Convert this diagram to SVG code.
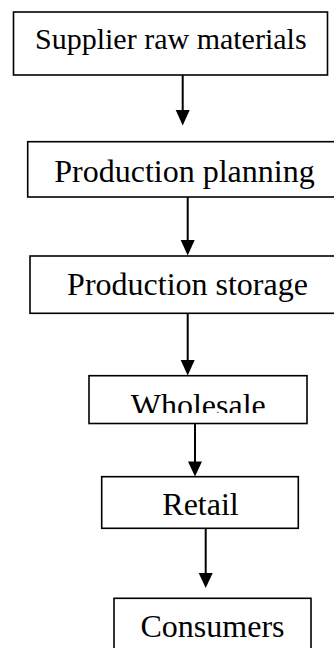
<svg xmlns="http://www.w3.org/2000/svg" width="334" height="648" viewBox="0 0 334 648">
  <style>
    .box { fill: #ffffff; stroke: #000000; stroke-width: 1.6; }
    .label { font-family: "Liberation Serif", "Times New Roman", serif; font-size: 32px; fill: #000000; text-anchor: middle; }
    .link { stroke: #000000; stroke-width: 2; fill: none; }
    .head { fill: #000000; }
  </style>
  <defs>
    <clipPath id="wholesale-clip">
      <rect x="89" y="376" width="218" height="37"/>
    </clipPath>
  </defs>
  <rect width="334" height="648" fill="#ffffff"/>

  <g id="supplier">
    <rect class="box" x="13.5" y="12" width="314" height="63"/>
    <text class="label" x="170.8" y="49" style="font-size:30px">Supplier raw materials</text>
  </g>

  <g id="planning">
    <rect class="box" x="27.7" y="141.7" width="320" height="55.3"/>
    <text class="label" x="184.5" y="182.3">Production planning</text>
  </g>

  <g id="storage">
    <rect class="box" x="30" y="256" width="320" height="57.3"/>
    <text class="label" x="187.5" y="295">Production storage</text>
  </g>

  <g id="wholesale">
    <rect class="box" x="89" y="375.7" width="218" height="47.8"/>
    <text class="label" x="198.3" y="416" clip-path="url(#wholesale-clip)">Wholesale</text>
  </g>

  <g id="retail">
    <rect class="box" x="101.7" y="476.7" width="196.6" height="51.6"/>
    <text class="label" x="200.5" y="515">Retail</text>
  </g>

  <g id="consumers">
    <rect class="box" x="114" y="598.3" width="197" height="60"/>
    <text class="label" x="212.5" y="637">Consumers</text>
  </g>

  <g id="connectors">
    <line class="link" x1="182.7" y1="75" x2="182.7" y2="112"/>
    <polygon class="head" points="175.7,110 189.7,110 182.7,125.5"/>

    <line class="link" x1="187.7" y1="197" x2="187.7" y2="242"/>
    <polygon class="head" points="180.7,240 194.7,240 187.7,255.5"/>

    <line class="link" x1="187.7" y1="313.3" x2="187.7" y2="362"/>
    <polygon class="head" points="180.7,360 194.7,360 187.7,375.5"/>

    <line class="link" x1="195" y1="423.5" x2="195" y2="463"/>
    <polygon class="head" points="188,461.5 202,461.5 195,476.5"/>

    <line class="link" x1="205.7" y1="528.3" x2="205.7" y2="575"/>
    <polygon class="head" points="198.7,573 212.7,573 205.7,588"/>
  </g>
</svg>
